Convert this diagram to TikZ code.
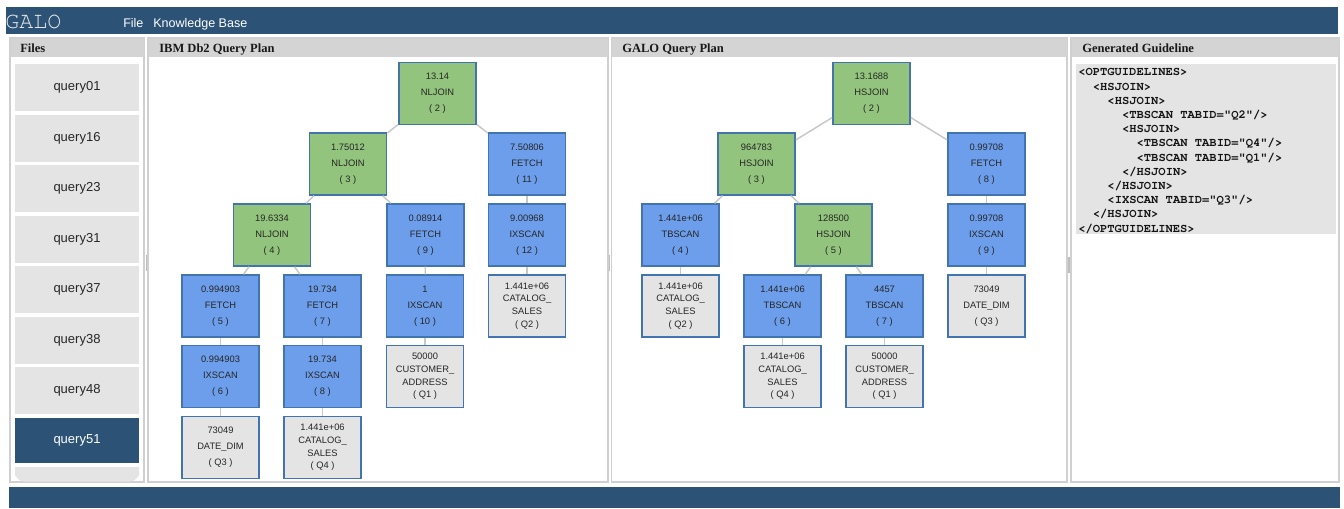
\documentclass[tikz,border=0pt]{standalone}
\usepackage{fontspec}
\setmainfont{Liberation Serif}
\setsansfont{Liberation Sans}
\setmonofont{Liberation Mono}
\newfontfamily\courierfont{texgyrecursor}[Extension=.otf, UprightFont=*-regular, BoldFont=*-bold]

\definecolor{barblue}{RGB}{44,82,117}
\definecolor{joingreen}{RGB}{147,196,125}
\definecolor{opblue}{RGB}{109,158,235}
\definecolor{tablegray}{RGB}{228,228,228}
\definecolor{nodeedge}{RGB}{66,116,176}
\definecolor{linkgray}{RGB}{200,200,200}
\definecolor{panelline}{RGB}{208,208,208}
\definecolor{headgray}{RGB}{212,212,212}
\definecolor{btngray}{RGB}{228,228,228}
\definecolor{codegray}{RGB}{228,228,228}
\definecolor{handlegray}{RGB}{190,190,190}

\tikzset{
  planbox/.style={draw=nodeedge, line width=1.1pt, minimum width=58pt, minimum height=46.5pt,
    inner sep=0pt, align=center, text=black!85, font=\sffamily\fontsize{7}{12}\selectfont},
  joinop/.style={planbox, fill=joingreen},
  scanop/.style={planbox, fill=opblue},
  tbl/.style={planbox, fill=tablegray},
  tblfour/.style={tbl, font=\sffamily\fontsize{7}{9.5}\selectfont},
  link/.style={draw=linkgray, line width=1.1pt},
  panel/.style={draw=panelline, line width=1.1pt, fill=white},
  panelhead/.style={fill=headgray},
  headtext/.style={anchor=base west, inner sep=0pt, font=\rmfamily\bfseries\fontsize{9.4}{11}\selectfont, text=black!90},
  filebtn/.style={fill=btngray, draw=none, minimum width=93pt, minimum height=35pt, inner sep=0pt,
    font=\sffamily\fontsize{9.75}{11}\selectfont, text=black!85},
  filebtnsel/.style={filebtn, fill=barblue, text=white},
  codeline/.style={anchor=base west, inner sep=0pt, font=\courierfont\bfseries\fontsize{9.1}{10}\selectfont, text=black!92},
  handle/.style={fill=handlegray},
}

\begin{document}
\begin{tikzpicture}[x=0.75pt,y=-0.75pt]
\useasboundingbox (0,0) rectangle (1344,508);
\fill[white] (0,0) rectangle (1344,508);

% menu bar
\fill[barblue] (6,7) rectangle (1338,34);
\node[anchor=base west, inner sep=0pt, font=\courierfont\fontsize{17.5}{17}\selectfont, text=black!8] (apptitle) at (5,28.5) {GALO};
\node[anchor=base west, inner sep=0pt, font=\sffamily\fontsize{9.4}{11}\selectfont, text=white] (menufile) at (123,27) {File};
\node[anchor=base west, inner sep=0pt, font=\sffamily\fontsize{9.4}{11}\selectfont, text=white] (menukb) at (153,27) {Knowledge Base};

% status bar
\fill[barblue] (9,487) rectangle (1340,508);

% panels
\draw[panel] (10,38) rectangle (144,482);
\fill[panelhead] (10.5,38.5) rectangle (143.5,57);
\node[headtext] (hfiles) at (20,52) {Files};

\draw[panel] (148,38) rectangle (608,482);
\fill[panelhead] (148.5,38.5) rectangle (607.5,57);
\node[headtext] (hibm) at (159,52) {IBM Db2 Query Plan};

\draw[panel] (611.5,38) rectangle (1067,482);
\fill[panelhead] (612,38.5) rectangle (1066.5,57);
\node[headtext] (hgalo) at (622,52) {GALO Query Plan};

\draw[panel] (1071,38) rectangle (1339,482);
\fill[panelhead] (1071.5,38.5) rectangle (1338.5,57);
\node[headtext] (hguide) at (1082,52) {Generated Guideline};

% splitter handles
\fill[handle] (145.6,255) rectangle (147.0,271);
\fill[handle] (608.9,255) rectangle (610.3,271);
\fill[handle] (1068.4,257) rectangle (1069.8,273);

% file list
\node[filebtn] (f01) at (77,87.5) {query01};
\node[filebtn] (f16) at (77,138.5) {query16};
\node[filebtn] (f23) at (77,188.5) {query23};
\node[filebtn] (f31) at (77,239.5) {query31};
\node[filebtn] (f37) at (77,289.5) {query37};
\node[filebtn] (f38) at (77,340.5) {query38};
\node[filebtn] (f48) at (77,390.5) {query48};
\node[filebtnsel, minimum height=33.5pt] (f51) at (77,440.5) {query51};
\fill[btngray, rounded corners=7pt] (15,467) rectangle (139,481.5);
\fill[btngray] (15,467) rectangle (139,474);

% IBM Db2 plan
\node[joinop] (i2) at (437.5,93.5) {13.14\\NLJOIN\\( 2 )};
\node[joinop] (i3) at (348,164) {1.75012\\NLJOIN\\( 3 )};
\node[scanop] (i11) at (527,164) {7.50806\\FETCH\\( 11 )};
\node[joinop] (i4) at (272,235) {19.6334\\NLJOIN\\( 4 )};
\node[scanop] (i9) at (425.5,235) {0.08914\\FETCH\\( 9 )};
\node[scanop] (i12) at (527,235) {9.00968\\IXSCAN\\( 12 )};
\node[scanop] (i5) at (220.5,306) {0.994903\\FETCH\\( 5 )};
\node[scanop] (i7) at (322.5,306) {19.734\\FETCH\\( 7 )};
\node[scanop] (i10) at (425,306) {1\\IXSCAN\\( 10 )};
\node[tblfour] (iq2) at (527,306) {1.441e+06\\CATALOG\_\\SALES\\( Q2 )};
\node[scanop] (i6) at (220.5,376.5) {0.994903\\IXSCAN\\( 6 )};
\node[scanop] (i8) at (322.5,376.5) {19.734\\IXSCAN\\( 8 )};
\node[tblfour] (iq1) at (425,376.5) {50000\\CUSTOMER\_\\ADDRESS\\( Q1 )};
\node[tbl] (iq3) at (220.5,447.5) {73049\\DATE\_DIM\\( Q3 )};
\node[tblfour] (iq4) at (322.5,447.5) {1.441e+06\\CATALOG\_\\SALES\\( Q4 )};

\draw[link] (i2) -- (i3);
\draw[link] (i2) -- (i11);
\draw[link] (i3) -- (i4);
\draw[link] (i3) -- (i9);
\draw[link] (i11) -- (i12);
\draw[link] (i12) -- (iq2);
\draw[link] (i4) -- (i5);
\draw[link] (i4) -- (i7);
\draw[link] (i9) -- (i10);
\draw[link] (i10) -- (iq1);
\draw[link] (i5) -- (i6);
\draw[link] (i6) -- (iq3);
\draw[link] (i7) -- (i8);
\draw[link] (i8) -- (iq4);

% GALO plan
\node[joinop] (g2) at (871.5,93.5) {13.1688\\HSJOIN\\( 2 )};
\node[joinop] (g3) at (756.5,164) {964783\\HSJOIN\\( 3 )};
\node[scanop] (g8) at (986.5,164) {0.99708\\FETCH\\( 8 )};
\node[scanop] (g4) at (680.5,235) {1.441e+06\\TBSCAN\\( 4 )};
\node[joinop] (g5) at (833.5,235) {128500\\HSJOIN\\( 5 )};
\node[scanop] (g9) at (986.5,235) {0.99708\\IXSCAN\\( 9 )};
\node[tblfour] (gq2) at (680.5,306) {1.441e+06\\CATALOG\_\\SALES\\( Q2 )};
\node[scanop] (g6) at (782.5,306) {1.441e+06\\TBSCAN\\( 6 )};
\node[scanop] (g7) at (884.5,306) {4457\\TBSCAN\\( 7 )};
\node[tbl] (gq3) at (986.5,306) {73049\\DATE\_DIM\\( Q3 )};
\node[tblfour] (gq4) at (782.5,376.5) {1.441e+06\\CATALOG\_\\SALES\\( Q4 )};
\node[tblfour] (gq1) at (884.5,376.5) {50000\\CUSTOMER\_\\ADDRESS\\( Q1 )};

\draw[link] (g2) -- (g3);
\draw[link] (g2) -- (g8);
\draw[link] (g3) -- (g4);
\draw[link] (g3) -- (g5);
\draw[link] (g8) -- (g9);
\draw[link] (g4) -- (gq2);
\draw[link] (g5) -- (g6);
\draw[link] (g5) -- (g7);
\draw[link] (g9) -- (gq3);
\draw[link] (g6) -- (gq4);
\draw[link] (g7) -- (gq1);

% generated guideline
\fill[codegray] (1076,64) rectangle (1336,234);
\node[codeline] (c1)  at (1078,75.8)  {<OPTGUIDELINES>};
\node[codeline] (c2)  at (1092.6,90.0)  {<HSJOIN>};
\node[codeline] (c3)  at (1107.2,104.2) {<HSJOIN>};
\node[codeline] (c4)  at (1121.8,118.4) {<TBSCAN TABID="Q2"/>};
\node[codeline] (c5)  at (1121.8,132.6) {<HSJOIN>};
\node[codeline] (c6)  at (1136.4,146.8) {<TBSCAN TABID="Q4"/>};
\node[codeline] (c7)  at (1136.4,161.0) {<TBSCAN TABID="Q1"/>};
\node[codeline] (c8)  at (1121.8,175.2) {</HSJOIN>};
\node[codeline] (c9)  at (1107.2,189.4) {</HSJOIN>};
\node[codeline] (c10) at (1107.2,203.6) {<IXSCAN TABID="Q3"/>};
\node[codeline] (c11) at (1092.6,217.8) {</HSJOIN>};
\node[codeline] (c12) at (1078,232.0) {</OPTGUIDELINES>};
\end{tikzpicture}
\end{document}
